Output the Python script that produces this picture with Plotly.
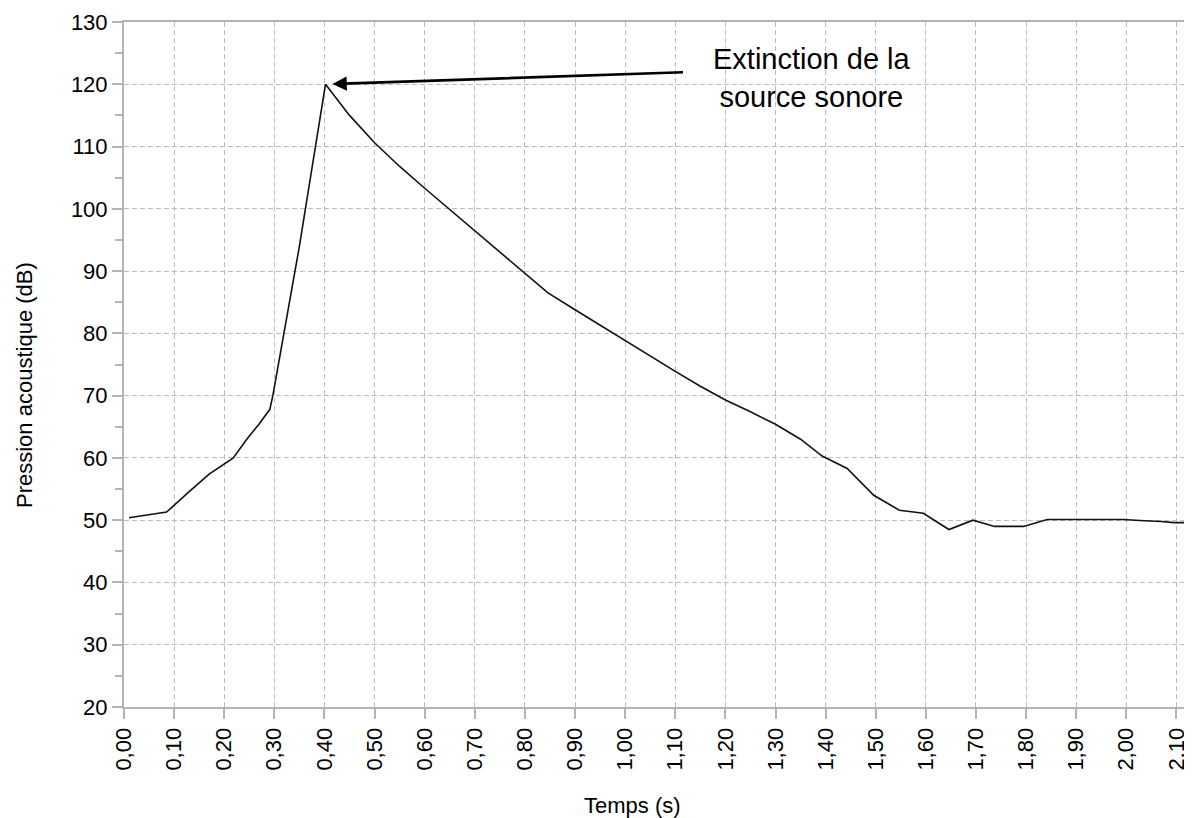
import plotly.graph_objects as go

# ---- data ----
time_s = [0.01, 0.085, 0.13, 0.17, 0.218, 0.245, 0.27, 0.291, 0.297, 0.35, 0.402,
          0.45, 0.50, 0.55, 0.60, 0.65, 0.70, 0.75, 0.80, 0.846, 0.90, 0.95, 1.00,
          1.05, 1.10, 1.15, 1.20, 1.25, 1.30, 1.35, 1.393, 1.443, 1.496, 1.547,
          1.595, 1.646, 1.694, 1.737, 1.795, 1.842, 1.90, 1.95, 1.993, 2.036,
          2.07, 2.095, 2.132]
pressure_db = [50.4, 51.3, 54.6, 57.4, 60.0, 63.0, 65.5, 67.8, 70.0, 94.0, 120.0,
               115.0, 110.6, 106.8, 103.3, 99.9, 96.5, 93.1, 89.6, 86.5, 83.8, 81.3, 78.9,
               76.4, 73.9, 71.5, 69.3, 67.4, 65.4, 63.0, 60.3, 58.3, 54.0, 51.6,
               51.1, 48.5, 50.0, 49.0, 49.0, 50.1, 50.1, 50.1, 50.1, 49.9,
               49.8, 49.6, 49.6]

x_tick_vals = [0.0, 0.1, 0.2, 0.3, 0.4, 0.5, 0.6, 0.7, 0.8, 0.9, 1.0,
               1.1, 1.2, 1.3, 1.4, 1.5, 1.6, 1.7, 1.8, 1.9, 2.0, 2.1]
x_tick_text = ["0,00", "0,10", "0,20", "0,30", "0,40", "0,50", "0,60", "0,70",
               "0,80", "0,90", "1,00", "1,10", "1,20", "1,30", "1,40", "1,50",
               "1,60", "1,70", "1,80", "1,90", "2,00", "2,10"]
y_tick_vals = [20, 30, 40, 50, 60, 70, 80, 90, 100, 110, 120, 130]

x_title = "Temps (s)"
y_title = "Pression acoustique (dB)"
note_text = "Extinction de la<br>source sonore"
peak_time = 0.402
peak_db = 120.0

FONT = "Liberation Sans, Arial, sans-serif"
GRID = "#bcbcbc"
AXIS = "#b4b4b4"

# the page body adds an 8 px offset; the figure is sized so the plot area lands
# where the reference has it (x 124..1192, y 22..707 in the window)
fig = go.Figure()
fig.add_trace(go.Scatter(x=time_s, y=pressure_db, mode="lines",
                         line=dict(color="#111111", width=1.6),
                         showlegend=False, hoverinfo="skip"))

fig.update_layout(
    width=1184, height=810,
    margin=dict(l=116, r=0, t=14, b=111, autoexpand=False),
    paper_bgcolor="white", plot_bgcolor="white",
    font=dict(family=FONT, size=22, color="black"),
    showlegend=False,
)

fig.update_xaxes(
    range=[0, 2.131], tickmode="array", tickvals=x_tick_vals, ticktext=x_tick_text,
    tickangle=-90, ticks="outside", ticklen=10, tickcolor=AXIS, tickwidth=1.5,
    showline=True, linecolor=AXIS, linewidth=2, mirror=True,
    showgrid=True, gridcolor=GRID, gridwidth=1.2, griddash="5px,3px",
    zeroline=False, automargin=False,
    tickfont=dict(family=FONT, size=22, color="black"),
)
fig.update_yaxes(
    range=[20, 130], tickmode="array", tickvals=y_tick_vals,
    ticks="outside", ticklen=10, tickcolor=AXIS, tickwidth=1.5,
    minor=dict(dtick=5, ticks="outside", ticklen=7, tickcolor=AXIS, tickwidth=1.5, showgrid=False),
    showline=True, linecolor=AXIS, linewidth=2,
    showgrid=True, gridcolor=GRID, gridwidth=1.2, griddash="5px,3px",
    zeroline=False, automargin=False,
    tickfont=dict(family=FONT, size=22, color="black"),
)

# axis titles placed as annotations (reference titles are not centred on the visible area)
fig.add_annotation(text=x_title, xref="paper", yref="paper", x=(632 - 124) / 1068,
                   y=-(805 - 707) / 685, showarrow=False, xanchor="center", yanchor="middle",
                   font=dict(family=FONT, size=22, color="black"))
fig.add_annotation(text=y_title, xref="paper", yref="paper", x=-(124 - 24) / 1068,
                   y=(707 - 385) / 685, showarrow=False, textangle=-90,
                   xanchor="center", yanchor="middle",
                   font=dict(family=FONT, size=22, color="black"))

# arrow to the peak
fig.add_annotation(x=peak_time, y=peak_db, xref="x", yref="y", text="",
                   showarrow=True, ax=359, ay=-12, axref="pixel", ayref="pixel",
                   arrowhead=2, arrowsize=1.1, arrowwidth=2.6, arrowcolor="black",
                   standoff=7)
fig.add_annotation(text=note_text, xref="paper", yref="paper",
                   x=(812 - 124) / 1068, y=(707 - 78) / 685, showarrow=False,
                   xanchor="center", yanchor="middle", align="center",
                   font=dict(family=FONT, size=29, color="black"))

fig.write_html("out.html")
